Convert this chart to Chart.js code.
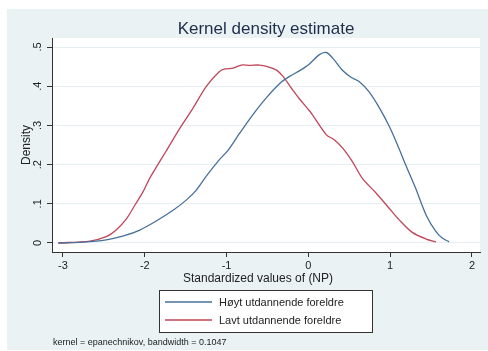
<!DOCTYPE html>
<html>
<head>
<meta charset="utf-8">
<script src="https://cdn.jsdelivr.net/npm/chart.js@4.4.1/dist/chart.umd.min.js"></script>
<style>
    html, body { margin: 0; padding: 0; background: #fff; }
    #wrap { width: 488px; height: 351px; }
</style>
</head>
<body>
<div id="wrap"><canvas id="kdeChart" width="488" height="351"></canvas></div>
<script>
// Høyt utdannende foreldre (blue)
const hoytX = [-3.05, -2.75, -2.47, -2.26, -2.06, -1.86, -1.65, -1.49, -1.37, -1.25, -1.09, -0.98, -0.84, -0.68, -0.52, -0.35, -0.23, -0.11, 0.01, 0.13, 0.22, 0.30, 0.42, 0.52, 0.62, 0.74, 0.87, 0.99, 1.09, 1.19, 1.31, 1.44, 1.56, 1.64, 1.72];
const hoytY = [0, 0.002, 0.008, 0.018, 0.033, 0.056, 0.084, 0.110, 0.135, 0.170, 0.212, 0.237, 0.280, 0.327, 0.369, 0.407, 0.425, 0.439, 0.456, 0.480, 0.486, 0.471, 0.440, 0.423, 0.412, 0.386, 0.344, 0.297, 0.250, 0.199, 0.140, 0.071, 0.029, 0.012, 0.003];

// Lavt utdannende foreldre (red)
const lavtX = [-3.06, -2.67, -2.47, -2.35, -2.22, -2.12, -2.02, -1.94, -1.84, -1.74, -1.57, -1.41, -1.25, -1.09, -1.02, -0.92, -0.82, -0.72, -0.60, -0.50, -0.39, -0.31, -0.19, -0.11, 0.01, 0.05, 0.22, 0.32, 0.42, 0.54, 0.66, 0.83, 0.99, 1.11, 1.27, 1.44, 1.56];
const lavtY = [0, 0.005, 0.016, 0.033, 0.063, 0.097, 0.131, 0.165, 0.200, 0.234, 0.293, 0.344, 0.399, 0.437, 0.444, 0.446, 0.454, 0.453, 0.454, 0.450, 0.441, 0.425, 0.390, 0.368, 0.338, 0.327, 0.276, 0.263, 0.242, 0.207, 0.165, 0.127, 0.088, 0.059, 0.027, 0.010, 0.003];

const seriesLabels = ['Høyt utdannende foreldre', 'Lavt utdannende foreldre'];
const yTickValues = [0, 0.1, 0.2, 0.3, 0.4, 0.5];
const yTickLabels = ['0', '.1', '.2', '.3', '.4', '.5'];
const chartTitle = 'Kernel density estimate';
const xTitle = 'Standardized values of (NP)';
const yTitle = 'Density';
const note = 'kernel = epanechnikov, bandwidth = 0.1047';

const blue = '#46709a';
const red = '#c04659';
const font = '"Liberation Sans", Arial, sans-serif';

const toPoints = (xs, ys) => xs.map((x, i) => ({ x: x, y: ys[i] }));

// backgrounds + all the stata style texts
const stataLook = {
    id: 'stataLook',
    beforeDraw(chart) {
        const ctx = chart.ctx;
        const a = chart.chartArea;
        ctx.save();
        ctx.fillStyle = '#ffffff';
        ctx.fillRect(0, 0, chart.width, chart.height);
        ctx.fillStyle = '#eaf2f3';
        ctx.fillRect(7, 9, 481, 341);
        ctx.fillStyle = '#ffffff';
        ctx.fillRect(a.left, a.top, a.right - a.left, a.bottom - a.top);
        ctx.restore();
    },
    afterDraw(chart) {
        const ctx = chart.ctx;
        const a = chart.chartArea;
        const yScale = chart.scales.y;
        ctx.save();

        // title
        ctx.fillStyle = '#1f2d4d';
        ctx.font = '17px ' + font;
        ctx.textAlign = 'center';
        ctx.textBaseline = 'alphabetic';
        ctx.fillText(chartTitle, (a.left + a.right) / 2, 33.5);

        // y tick labels, rotated like stata
        ctx.fillStyle = '#222';
        ctx.font = '11px ' + font;
        yTickValues.forEach((v, i) => {
            const py = yScale.getPixelForValue(v);
            ctx.save();
            ctx.translate(40.5, py);
            ctx.rotate(-Math.PI / 2);
            ctx.textAlign = 'center';
            ctx.fillText(yTickLabels[i], 0, 0);
            ctx.restore();
        });

        // y title
        ctx.save();
        ctx.font = '12px ' + font;
        ctx.translate(29.5, (a.top + a.bottom) / 2);
        ctx.rotate(-Math.PI / 2);
        ctx.textAlign = 'center';
        ctx.fillText(yTitle, 0, 0);
        ctx.restore();

        // x title
        ctx.font = '12px ' + font;
        ctx.textAlign = 'center';
        ctx.fillText(xTitle, 258, 282);

        // legend box
        ctx.fillStyle = '#ffffff';
        ctx.fillRect(159.5, 290.5, 213, 42);
        ctx.strokeStyle = '#333';
        ctx.lineWidth = 1;
        ctx.strokeRect(159.5, 290.5, 213, 42);
        const cols = [blue, red];
        const rowY = [302, 320];
        ctx.font = '11px ' + font;
        ctx.textAlign = 'left';
        ctx.textBaseline = 'middle';
        seriesLabels.forEach((lab, i) => {
            ctx.strokeStyle = cols[i];
            ctx.lineWidth = 1.3;
            ctx.beginPath();
            ctx.moveTo(165, rowY[i]);
            ctx.lineTo(212, rowY[i]);
            ctx.stroke();
            ctx.fillStyle = '#222';
            ctx.fillText(lab, 219, rowY[i] + 1);
        });

        // note
        ctx.font = '9px ' + font;
        ctx.fillStyle = '#222';
        ctx.fillText(note, 53, 343);
        ctx.restore();
    }
};

const ctx = document.getElementById('kdeChart');

const kdeChart = new Chart(ctx, {
    type: 'line',
    data: {
        datasets: [
            {
                label: seriesLabels[0],
                data: toPoints(hoytX, hoytY),
                borderColor: blue,
                borderWidth: 1.3,
                pointRadius: 0,
                tension: 0.3,
                fill: false
            },
            {
                label: seriesLabels[1],
                data: toPoints(lavtX, lavtY),
                borderColor: red,
                borderWidth: 1.3,
                pointRadius: 0,
                tension: 0.3,
                fill: false
            }
        ]
    },
    options: {
        responsive: false,
        animation: false,
        events: [],
        layout: {
            padding: { left: 7, top: 38, right: 8, bottom: 0 }
        },
        plugins: {
            legend: { display: false },
            title: { display: false },
            tooltip: { enabled: false }
        },
        scales: {
            x: {
                type: 'linear',
                min: -3.134,
                max: 2.098,
                ticks: {
                    stepSize: 1,
                    includeBounds: false,
                    color: '#222',
                    padding: 2,
                    font: { family: font, size: 11 }
                },
                grid: {
                    drawOnChartArea: false,
                    tickLength: 5,
                    tickColor: '#333'
                },
                border: { color: '#333', width: 1 },
                afterFit: (scale) => { scale.height = 99; }
            },
            y: {
                type: 'linear',
                min: -0.023,
                max: 0.523,
                ticks: {
                    stepSize: 0.1,
                    includeBounds: false,
                    display: false
                },
                grid: {
                    color: '#e6eff1',
                    tickLength: 5,
                    tickColor: '#333'
                },
                border: { color: '#333', width: 1 },
                afterFit: (scale) => { scale.width = 45; }
            }
        }
    },
    plugins: [stataLook]
});
</script>
</body>
</html>
